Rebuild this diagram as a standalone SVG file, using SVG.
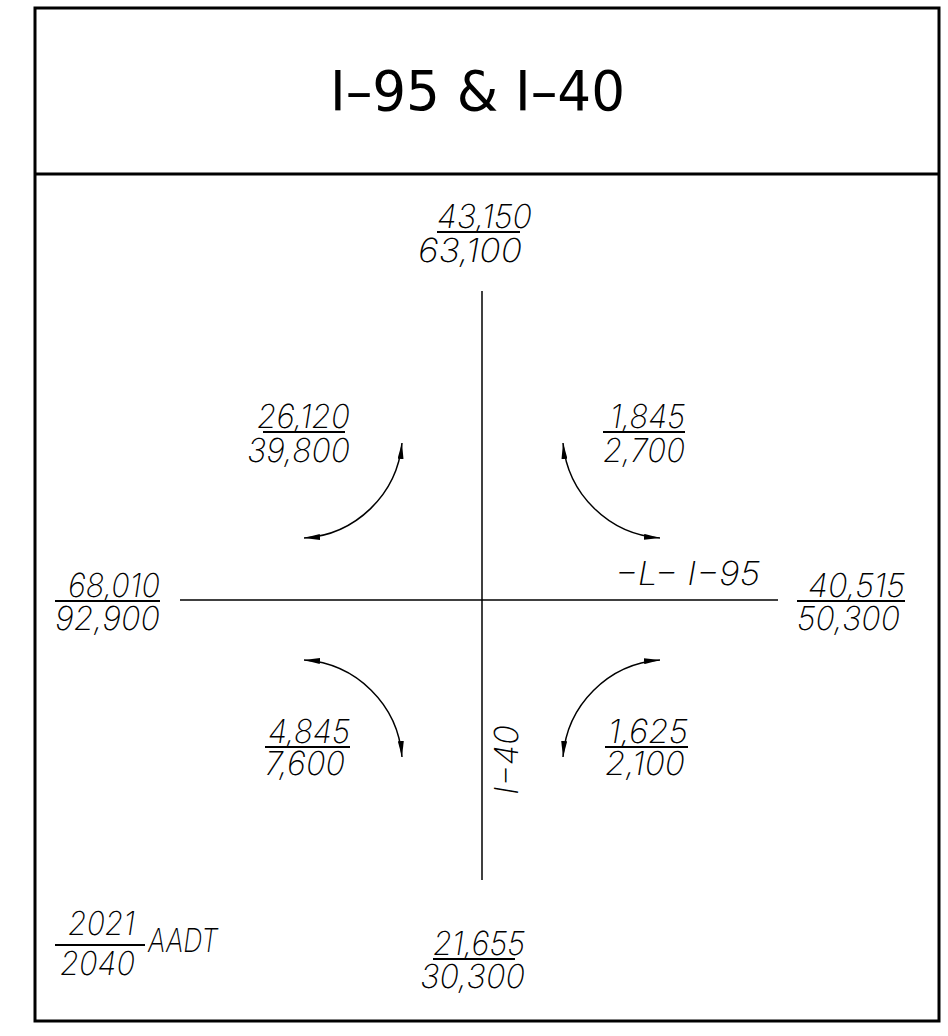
<svg xmlns="http://www.w3.org/2000/svg" width="948" height="1036" viewBox="0 0 948 1036">
<style>
.num{font-family:Inter,Lato,"Open Sans","DejaVu Sans",sans-serif;font-weight:200;font-style:italic;font-size:33px;fill:#000}
.title{font-family:"DejaVu Sans Condensed","Liberation Sans Narrow","Liberation Sans",sans-serif;font-size:56px;fill:#000}
.bar{stroke:#000;stroke-width:2}
.road{stroke:#000;stroke-width:1.5}
.arc{fill:none;stroke:#000;stroke-width:1.5;marker-start:url(#ah);marker-end:url(#ah)}
</style>
<defs>
<marker id="ah" viewBox="0 0 16 6" refX="16" refY="3" markerWidth="16" markerHeight="6" markerUnits="userSpaceOnUse" orient="auto-start-reverse">
<path d="M0,0 L16,3 L0,6 Z" fill="#000"/>
</marker>
</defs>
<rect x="0" y="0" width="948" height="1036" fill="#fff"/>
<g id="frame">
<rect x="35" y="8" width="904" height="1013" fill="none" stroke="#000" stroke-width="3"/>
<line x1="35" y1="174" x2="939" y2="174" stroke="#000" stroke-width="3"/>
</g>
<g id="title"><text class="title" x="330" y="110" textLength="295" lengthAdjust="spacingAndGlyphs">I–95  &amp;  I–40</text></g>
<g id="roads">
<line class="road" x1="482" y1="291" x2="482" y2="880"/>
<line class="road" x1="180" y1="600" x2="778" y2="600"/>
</g>
<g id="connectors">
<path class="arc" d="M402,443 A105,105 0 0 1 304,538"/>
<path class="arc" d="M563,443 A105,105 0 0 0 660,538"/>
<path class="arc" d="M304,660 A105,105 0 0 1 402,757"/>
<path class="arc" d="M660,660 A105,105 0 0 0 563,757"/>
</g>
<g id="north">
<text class="num" x="437" y="228" textLength="95" lengthAdjust="spacingAndGlyphs">43,150</text>
<line class="bar" x1="437" y1="232" x2="520" y2="232"/>
<text class="num" x="418" y="262" textLength="104" lengthAdjust="spacingAndGlyphs">63,100</text>
</g>
<g id="nw">
<text class="num" x="257" y="428" textLength="93" lengthAdjust="spacingAndGlyphs">26,120</text>
<line class="bar" x1="263" y1="432" x2="345" y2="432"/>
<text class="num" x="247" y="462" textLength="103" lengthAdjust="spacingAndGlyphs">39,800</text>
</g>
<g id="ne">
<text class="num" x="610" y="428" textLength="75" lengthAdjust="spacingAndGlyphs">1,845</text>
<line class="bar" x1="603" y1="432" x2="685" y2="432"/>
<text class="num" x="603" y="462" textLength="82" lengthAdjust="spacingAndGlyphs">2,700</text>
</g>
<g id="west">
<text class="num" x="68" y="597" textLength="92" lengthAdjust="spacingAndGlyphs">68,010</text>
<line class="bar" x1="55" y1="601" x2="160" y2="601"/>
<text class="num" x="55" y="630" textLength="105" lengthAdjust="spacingAndGlyphs">92,900</text>
</g>
<g id="east">
<text class="num" x="808" y="597" textLength="97" lengthAdjust="spacingAndGlyphs">40,515</text>
<line class="bar" x1="797" y1="601" x2="905" y2="601"/>
<text class="num" x="797" y="630" textLength="103" lengthAdjust="spacingAndGlyphs">50,300</text>
</g>
<g id="label-i95"><text class="num" x="615" y="585" textLength="145" lengthAdjust="spacingAndGlyphs">−L−  I−95</text></g>
<g id="label-i40"><text class="num" transform="translate(518,795) rotate(-90)" x="0" y="0" textLength="70" lengthAdjust="spacingAndGlyphs">I−40</text></g>
<g id="sw">
<text class="num" x="268" y="743" textLength="82" lengthAdjust="spacingAndGlyphs">4,845</text>
<line class="bar" x1="265" y1="747" x2="350" y2="747"/>
<text class="num" x="265" y="775" textLength="80" lengthAdjust="spacingAndGlyphs">7,600</text>
</g>
<g id="se">
<text class="num" x="608" y="743" textLength="80" lengthAdjust="spacingAndGlyphs">1,625</text>
<line class="bar" x1="605" y1="747" x2="688" y2="747"/>
<text class="num" x="605" y="775" textLength="80" lengthAdjust="spacingAndGlyphs">2,100</text>
</g>
<g id="south">
<text class="num" x="433" y="955" textLength="92" lengthAdjust="spacingAndGlyphs">21,655</text>
<line class="bar" x1="433" y1="959" x2="515" y2="959"/>
<text class="num" x="420" y="988" textLength="105" lengthAdjust="spacingAndGlyphs">30,300</text>
</g>
<g id="legend">
<text class="num" x="68" y="935" textLength="67" lengthAdjust="spacingAndGlyphs">2021</text>
<line class="bar" x1="55" y1="945" x2="145" y2="945"/>
<text class="num" x="60" y="975" textLength="75" lengthAdjust="spacingAndGlyphs">2040</text>
<text class="num" x="148" y="952" font-size="28" textLength="70" lengthAdjust="spacingAndGlyphs">AADT</text>
</g>
</svg>
